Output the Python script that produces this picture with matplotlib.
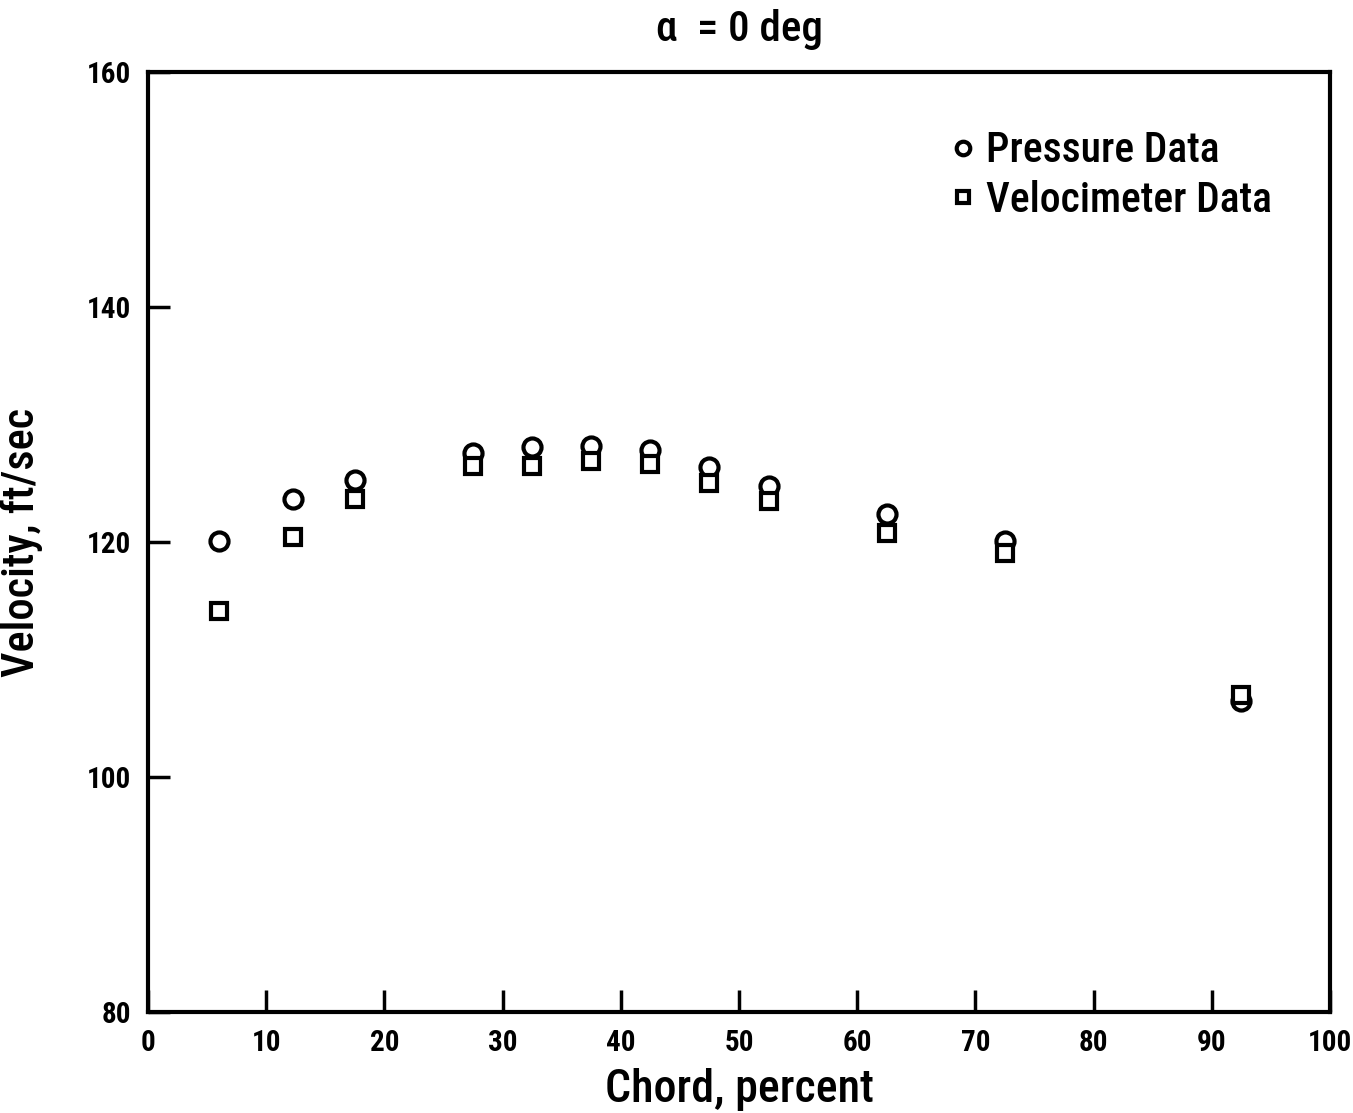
import matplotlib.pyplot as plt
from matplotlib import font_manager

# chord position (percent) and velocity (ft/sec)
chord = [6.0, 12.3, 17.5, 27.5, 32.5, 37.5, 42.5, 47.5, 52.5, 62.5, 72.5, 92.5]
pressure_vel = [120.1, 123.7, 125.3, 127.6, 128.1, 128.2, 127.8, 126.4, 124.8, 122.4, 120.1, 106.5]
velocimeter_vel = [114.1, 120.4, 123.7, 126.5, 126.5, 126.9, 126.6, 125.0, 123.5, 120.8, 119.1, 107.0]

x_ticks = [0, 10, 20, 30, 40, 50, 60, 70, 80, 90, 100]
y_ticks = [80, 100, 120, 140, 160]

# pick a condensed sans, if one is there
names = set(f.name for f in font_manager.fontManager.ttflist)
fam = "DejaVu Sans"
for cand in ["Roboto Condensed", "PT Sans Narrow", "Archivo Narrow",
             "Fira Sans Condensed", "Liberation Sans Narrow"]:
    if cand in names:
        fam = cand
        break
plt.rcParams["font.family"] = [fam, "DejaVu Sans"]

fig = plt.figure(figsize=(13.53, 11.13), dpi=100)
ax = fig.add_axes([0.1094, 0.0907, 0.8736, 0.8446])

ax.plot(chord, pressure_vel, linestyle="none", marker="o", markersize=13,
        markerfacecolor="white", markeredgecolor="black", markeredgewidth=3,
        label="Pressure Data")
ax.plot(chord, velocimeter_vel, linestyle="none", marker="s", markersize=12,
        markerfacecolor="white", markeredgecolor="black", markeredgewidth=3,
        label="Velocimeter Data")

ax.set_xlim(0, 100)
ax.set_ylim(80, 160)
ax.set_xticks(x_ticks)
ax.set_yticks(y_ticks)
ax.set_xticklabels([str(t) for t in x_ticks], fontsize=21, fontweight="bold")
ax.set_yticklabels([str(t) for t in y_ticks], fontsize=21, fontweight="bold")
ax.tick_params(direction="in", length=16, width=2.5, pad=12)

for s in ax.spines.values():
    s.set_linewidth(3)

ax.set_xlabel("Chord, percent", fontsize=33, fontweight="medium", labelpad=8)
ax.set_ylabel("Velocity, ft/sec", fontsize=32, fontweight="medium", labelpad=32)
ax.set_title("\u03b1  = 0 deg", fontsize=31, fontweight="medium", pad=22)

leg = ax.legend(loc="upper right", frameon=False, handletextpad=0.05,
                handlelength=1.0, labelspacing=0.2, borderaxespad=1.0,
                markerscale=0.75, prop={"size": 30, "weight": "medium"})

fig.savefig("out.png", dpi=100)
